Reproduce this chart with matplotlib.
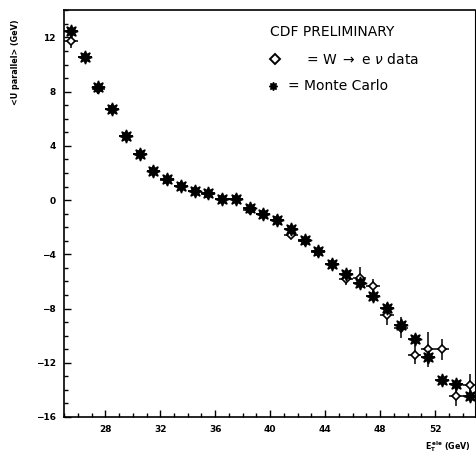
import numpy as np
import matplotlib
matplotlib.use("Agg")
import matplotlib.pyplot as plt
from matplotlib.ticker import MultipleLocator

# Electron transverse energy bin centres (GeV)
et_bins = [25.5, 26.5, 27.5, 28.5, 29.5, 30.5, 31.5, 32.5, 33.5, 34.5,
           35.5, 36.5, 37.5, 38.5, 39.5, 40.5, 41.5, 42.5, 43.5, 44.5,
           45.5, 46.5, 47.5, 48.5, 49.5, 50.5, 51.5, 52.5, 53.5, 54.5]

# Monte Carlo <U parallel> (GeV)
mc_upar = [12.44, 10.59, 8.33, 6.73, 4.76, 3.41, 2.17, 1.54, 1.06, 0.69,
           0.50, 0.08, 0.05, -0.57, -1.02, -1.47, -2.10, -2.95, -3.76, -4.72,
           -5.46, -6.15, -7.08, -7.95, -9.23, -10.22, -11.59, -13.24, -13.57, -14.42]
mc_err = [0.25, 0.2, 0.25, 0.2, 0.15, 0.25, 0.2, 0.2, 0.15, 0.15,
          0.15, 0.15, 0.2, 0.2, 0.2, 0.2, 0.25, 0.25, 0.2, 0.25,
          0.3, 0.3, 0.3, 0.35, 0.35, 0.3, 0.4, 0.3, 0.3, 0.3]

# W -> e nu data <U parallel> (GeV)
data_upar = [11.75, 10.55, 8.22, 6.70, 4.74, 3.38, 2.12, 1.50, 1.02, 0.65,
             0.46, 0.05, 0.10, -0.70, -1.00, -1.50, -2.55, -3.00, -3.80, -4.75,
             -5.85, -5.72, -6.35, -8.51, -9.40, -11.41, -11.02, -11.02, -14.44, -13.66]
data_err = [0.55, 0.3, 0.4, 0.3, 0.2, 0.3, 0.25, 0.25, 0.2, 0.2,
            0.2, 0.2, 0.25, 0.3, 0.25, 0.25, 0.35, 0.3, 0.3, 0.35,
            0.4, 0.75, 0.5, 0.7, 0.8, 0.7, 1.3, 0.8, 0.75, 0.85]

x_ticks = [28, 32, 36, 40, 44, 48, 52]
y_ticks = [-16, -12, -8, -4, 0, 4, 8, 12]

W, H = 476, 458
fig = plt.figure(figsize=(W / 100, H / 100), dpi=100)
ax = fig.add_axes([64.05 / W, 1 - 417 / H, (475 - 64.05) / W, (417 - 10.3) / H])

star = (8, 1, 0)
ax.errorbar(et_bins, data_upar, xerr=0.5, yerr=data_err, fmt='none',
            ecolor='black', elinewidth=1.1, capsize=0, zorder=2)
ax.plot(et_bins, data_upar, linestyle='none', marker='D', markersize=4.2,
        markerfacecolor='white', markeredgecolor='black', markeredgewidth=1.2,
        zorder=3)
ax.errorbar(et_bins, mc_upar, xerr=0.5, yerr=mc_err, fmt='none',
            ecolor='black', elinewidth=1.3, capsize=0, zorder=4)
ax.plot(et_bins, mc_upar, linestyle='none', marker=star, markersize=9.5,
        color='black', zorder=5)

ax.set_xlim(25, 54.9)
ax.set_ylim(-16, 14)
ax.set_xticks(x_ticks)
ax.set_yticks(y_ticks)
ax.xaxis.set_minor_locator(MultipleLocator(1))
ax.yaxis.set_minor_locator(MultipleLocator(1))
ax.tick_params(which='both', direction='in', top=False, right=False, width=1.0)
ax.tick_params(which='major', length=5, labelsize=6.5, pad=6)
ax.tick_params(which='minor', length=2.8)
for lab in ax.get_xticklabels() + ax.get_yticklabels():
    lab.set_fontweight('bold')
for side in ['left', 'bottom', 'top']:
    ax.spines[side].set_linewidth(1.2)
ax.spines['right'].set_linewidth(0.8)

def fx(px):
    return px / W

def fy(py):
    return 1 - py / H

# Axis titles
fig.text(fx(16), fy(62), "<U parallel> (GeV)", rotation=90, ha='center',
         va='center', fontsize=5.8, fontweight='bold')
fig.text(fx(425), fy(447), r"E$_{\mathbf{T}}^{\,\mathbf{ele}}$ (GeV)", ha='left',
         va='center', fontsize=5.8, fontweight='bold')

# Key
fig.text(fx(270), fy(31.7), "CDF PRELIMINARY", ha='left', va='center',
         fontsize=10)
fig.add_artist(plt.Line2D([fx(275.3)], [fy(59.3)], marker='D', markersize=5,
                          markerfacecolor='white', markeredgecolor='black',
                          markeredgewidth=1.4, linestyle='none'))
fig.text(fx(306), fy(59.3), r"= W $\rightarrow$ e $\nu$ data", ha='left',
         va='center', fontsize=10)
fig.add_artist(plt.Line2D([fx(272.7)], [fy(86)], marker=star, markersize=6,
                          color='black', linestyle='none'))
fig.text(fx(288), fy(86), "= Monte Carlo", ha='left', va='center', fontsize=10)

fig.savefig("out.png", dpi=100)
